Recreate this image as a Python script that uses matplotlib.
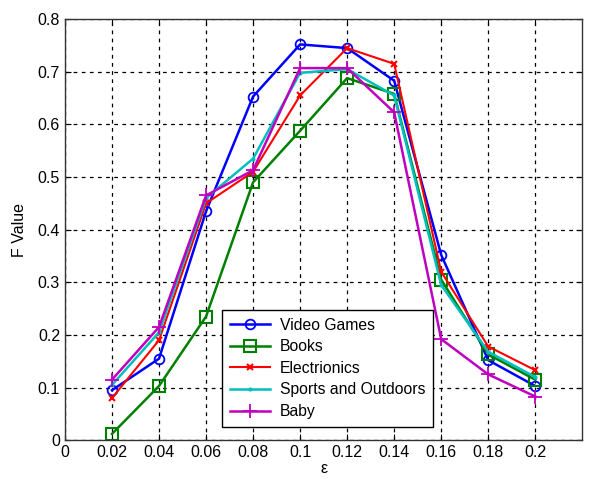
import matplotlib
matplotlib.use("Agg")
from matplotlib import pyplot as plt

plt.rcParams['font.family'] = ['Liberation Sans', 'DejaVu Sans']

eps = [0.02, 0.04, 0.06, 0.08, 0.1, 0.12, 0.14, 0.16, 0.18, 0.2]
video_games = [0.095, 0.155, 0.435, 0.653, 0.752, 0.745, 0.683, 0.352, 0.152, 0.103]
books = [0.012, 0.103, 0.235, 0.490, 0.588, 0.688, 0.658, 0.305, 0.163, 0.115]
electronics = [0.080, 0.190, 0.450, 0.510, 0.655, 0.745, 0.715, 0.320, 0.178, 0.133]
sports = [0.105, 0.205, 0.460, 0.535, 0.698, 0.705, 0.655, 0.295, 0.168, 0.120]
baby = [0.115, 0.215, 0.465, 0.513, 0.707, 0.707, 0.623, 0.192, 0.125, 0.083]

x_ticks = [0, 0.02, 0.04, 0.06, 0.08, 0.1, 0.12, 0.14, 0.16, 0.18, 0.2]
x_tick_labels = ['0', '0.02', '0.04', '0.06', '0.08', '0.1', '0.12', '0.14', '0.16', '0.18', '0.2']
y_ticks = [0, 0.1, 0.2, 0.3, 0.4, 0.5, 0.6, 0.7, 0.8]
y_tick_labels = ['0', '0.1', '0.2', '0.3', '0.4', '0.5', '0.6', '0.7', '0.8']

fig = plt.figure(figsize=(5.96, 4.79), dpi=100)
ax = fig.add_axes([0.109, 0.081, 0.868, 0.879])

ax.plot(eps, video_games, color='#0000ff', lw=1.8, marker='o', ms=7,
        mfc='none', mew=1.3, label='Video Games')
ax.plot(eps, books, color='#008000', lw=1.8, marker='s', ms=8,
        mfc='none', mew=1.5, label='Books')
ax.plot(eps, electronics, color='#ff0000', lw=1.5, marker='x', ms=4,
        mew=1.5, label='Electrionics')
ax.plot(eps, sports, color='#00bfbf', lw=1.8, marker='.', ms=4,
        label='Sports and Outdoors')
ax.plot(eps, baby, color='#bf00bf', lw=1.8, marker='+', ms=10,
        mew=1.3, label='Baby')

ax.set_xlim(0, 0.22)
ax.set_ylim(0, 0.8)
ax.set_xticks(x_ticks)
ax.set_xticklabels(x_tick_labels)
ax.set_yticks(y_ticks)
ax.set_yticklabels(y_tick_labels)
ax.tick_params(direction='in', labelsize=11.5, top=True, right=True, length=4)
ax.grid(True, color='black', linestyle=(0, (3, 3.5)), linewidth=0.9)
for s in ax.spines.values():
    s.set_linewidth(1.0)
    s.set_color('#333333')

ax.set_ylabel('F Value', fontsize=11.5, labelpad=8)
ax.set_xlabel('ε', fontsize=11.5, labelpad=1)

leg = ax.legend(loc='lower left', bbox_to_anchor=(0.288, 0.013), fontsize=11.3,
                fancybox=False, framealpha=1, edgecolor='black',
                handlelength=2.6, handletextpad=0.6, borderpad=0.5,
                labelspacing=0.42)
leg.get_frame().set_linewidth(1.0)

fig.savefig('out.png', dpi=100)
